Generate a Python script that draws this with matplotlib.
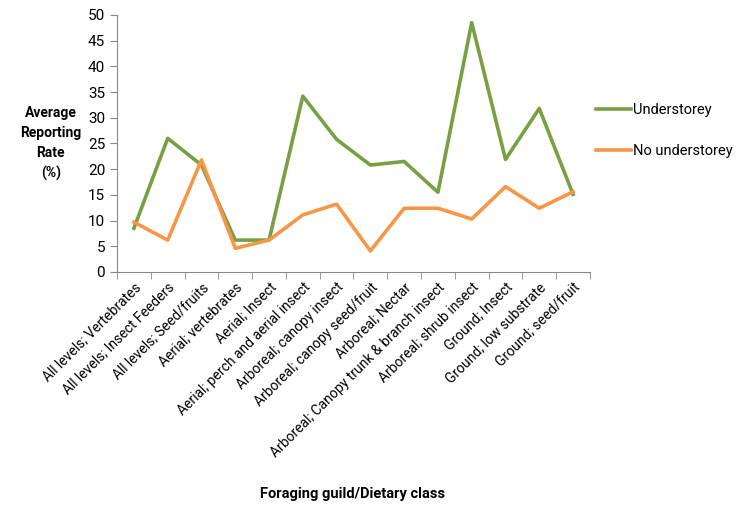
import matplotlib.pyplot as plt
import numpy as np

plt.rcParams["font.family"] = ["Roboto", "DejaVu Sans"]

categories = [
    "All levels; Vertebrates",
    "All levels; Insect Feeders",
    "All levels; Seed/fruits",
    "Aerial; vertebrates",
    "Aerial; Insect",
    "Aerial; perch and aerial insect",
    "Arboreal; canopy insect",
    "Arboreal; canopy seed/fruit",
    "Arboreal; Nectar",
    "Arboreal; Canopy trunk & branch insect",
    "Arboreal; shrub insect",
    "Ground; Insect",
    "Ground; low substrate",
    "Ground; seed/fruit",
]
understorey = [8.5, 26.0, 20.8, 6.2, 6.2, 34.2, 25.8, 20.8, 21.5, 15.5, 48.5, 21.9, 31.8, 15.1]
no_understorey = [9.7, 6.2, 21.8, 4.6, 6.2, 11.1, 13.2, 4.1, 12.4, 12.4, 10.3, 16.6, 12.4, 15.6]

fig = plt.figure(figsize=(7.43, 5.08), dpi=100)
ax = fig.add_axes([0.1575, 0.4646, 0.6365, 0.506])

x = np.arange(len(categories))
ax.plot(x, understorey, color="#77A043", linewidth=2.6, label="Understorey")
ax.plot(x, no_understorey, color="#F79646", linewidth=2.6, label="No understorey")

ax.set_xlim(-0.5, len(categories) - 0.5)
ax.set_ylim(0, 50)
ax.set_yticks(range(0, 51, 5))
ax.set_xticks(x)
ax.set_xticklabels(categories, rotation=45, ha="right", rotation_mode="anchor", fontsize=10)
ax.tick_params(axis="x", which="major", length=0, pad=6)
ax.set_xticks(np.arange(-0.5, len(categories), 1), minor=True)
ax.tick_params(axis="x", which="minor", length=5, color="#888888")
ax.tick_params(axis="y", length=5, color="#888888", labelsize=11)

for side in ["top", "right"]:
    ax.spines[side].set_visible(False)
for side in ["left", "bottom"]:
    ax.spines[side].set_color("#888888")

ax.set_ylabel("Average\nReporting\nRate\n(%)", rotation=0, fontweight="bold",
              fontsize=10, ha="center", va="center", linespacing=1.55)
ax.yaxis.set_label_coords(-0.14, 0.5)
fig.text(0.475, 0.02, "Foraging guild/Dietary class", fontweight="bold",
         fontsize=10.5, ha="center")

fig.legend(loc="upper left", bbox_to_anchor=(0.8, 0.80), frameon=False,
           fontsize=10.5, handlelength=2.4, handletextpad=0.15, labelspacing=1.85,
           borderaxespad=0, borderpad=0.1)

fig.savefig("out.png", dpi=100)
